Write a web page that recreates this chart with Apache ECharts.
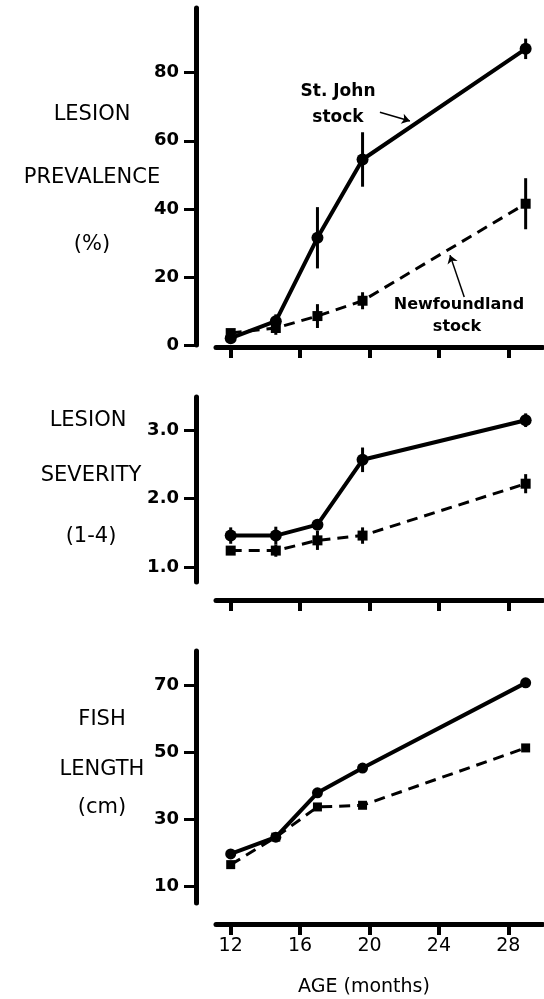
<!DOCTYPE html>
<html><head><meta charset="utf-8">
<script src="https://cdn.jsdelivr.net/npm/echarts@6/dist/echarts.min.js"></script>
<style>html,body{margin:0;padding:0;background:#fff}#c{width:544px;height:999px}</style>
</head><body><div id="c"></div>
<script>
// ---- data ----
const ages = [12, 14.6, 17, 19.6, 29];
const xTicks = [12, 16, 20, 24, 28];

const prevStJohn = [2, 7, 31.5, 54.5, 87];
const prevStJohnErr = [1, 2, 9, 8, 3];
const prevNewf = [3.5, 5, 8.5, 13, 41.5];
const prevNewfErr = [1, 2, 3.5, 2.5, 7.5];
const prevTicks = [0, 20, 40, 60, 80];

const sevStJohn = [1.46, 1.46, 1.62, 2.57, 3.15];
const sevStJohnErr = [0.12, 0.13, 0.07, 0.18, 0.1];
const sevNewf = [1.24, 1.24, 1.39, 1.46, 2.22];
const sevNewfErr = [0.05, 0.09, 0.14, 0.12, 0.14];
const sevTicks = [1, 2, 3];

const lenStJohn = [19.7, 24.7, 37.9, 45.3, 70.7];
const lenNewf = [16.5, 24.7, 33.7, 34.2, 51.3];
const lenTicks = [10, 30, 50, 70];

// ---- chart ----
const FONT = '"DejaVu Sans", "Liberation Sans", sans-serif';
const chart = echarts.init(document.getElementById('c'), null, {renderer: 'canvas'});

const pts = ys => ages.map((a, i) => [a, ys[i]]);
const errPts = (ys, es) => ages.map((a, i) => [a, ys[i] - es[i], ys[i] + es[i]]);

const panels = [
  {top: 8, height: 337, min: 0, max: 99, ticks: prevTicks, fmt: v => String(v), lineY: 347,
   sj: prevStJohn, nf: prevNewf, sjE: prevStJohnErr, nfE: prevNewfErr},
  {top: 397, height: 185, min: 0.78, max: 3.49, ticks: sevTicks, fmt: v => Number(v).toFixed(1), lineY: 600,
   sj: sevStJohn, nf: sevNewf, sjE: sevStJohnErr, nfE: sevNewfErr},
  {top: 651, height: 252, min: 5.06, max: 80.2, ticks: lenTicks, fmt: v => String(v), lineY: 924,
   sj: lenStJohn, nf: lenNewf, sjE: null, nfE: null}
];

const grid = [], xAxis = [], yAxis = [], series = [];
panels.forEach((p, i) => {
  grid.push({left: 196, right: 1, top: p.top, height: p.height});
  xAxis.push({gridIndex: i, type: 'value', min: 10, max: 30, show: false});
  yAxis.push({
    gridIndex: i, type: 'value', min: p.min, max: p.max, position: 'left',
    axisLine: {show: true, onZero: false, lineStyle: {color: '#000', width: 5}},
    axisTick: {show: true, customValues: p.ticks, length: 12, lineStyle: {color: '#000', width: 3}},
    axisLabel: {show: true, customValues: p.ticks, formatter: p.fmt, margin: 17, color: '#000',
                fontFamily: FONT, fontWeight: 'bold', fontSize: 18},
    splitLine: {show: false}
  });
});
panels.forEach((p, i) => {
  const gi = 3 + i;
  grid.push({left: 216, right: 1, top: p.lineY - 1, height: 1});
  xAxis.push({
    gridIndex: gi, type: 'value', min: 10 + 20 / 17.35, max: 30, position: 'bottom',
    axisLine: {show: true, onZero: false, lineStyle: {color: '#000', width: 5}},
    axisTick: {show: true, customValues: xTicks, length: 11, lineStyle: {color: '#000', width: 4}},
    axisLabel: {show: i === 2, customValues: xTicks, margin: 13, color: '#000',
                fontFamily: FONT, fontSize: 19},
    splitLine: {show: false}
  });
  yAxis.push({gridIndex: gi, type: 'value', min: 0, max: 1, show: false});
});

const errRender = (params, api) => {
  const x = api.value(0);
  const lo = api.coord([x, api.value(1)]);
  const hi = api.coord([x, api.value(2)]);
  return {type: 'line', shape: {x1: lo[0], y1: lo[1], x2: hi[0], y2: hi[1]},
          style: {stroke: '#000', lineWidth: 3}};
};

panels.forEach((p, i) => {
  const sj = {
    type: 'line', xAxisIndex: i, yAxisIndex: i, data: pts(p.sj),
    symbol: 'circle', symbolSize: i === 2 ? 11 : 12, showSymbol: true,
    lineStyle: {color: '#000', width: 4}, itemStyle: {color: '#000'}, z: 3
  };
  const nf = {
    type: 'line', xAxisIndex: i, yAxisIndex: i, data: pts(p.nf),
    symbol: 'rect', symbolSize: i === 2 ? 9 : 10, showSymbol: true,
    lineStyle: {color: '#000', width: 3, type: [11, 7]}, itemStyle: {color: '#000'}, z: 3
  };
  if (i === 0) {
    sj.markLine = {silent: true, symbol: ['none', 'arrow'], symbolSize: 8, animation: false,
      lineStyle: {color: '#000', width: 1.5, type: 'solid'}, label: {show: false},
      data: [[{coord: [20.6, 68.4]}, {coord: [22.33, 65.8]}]]};
    nf.markLine = {silent: true, symbol: ['none', 'arrow'], symbolSize: 8, animation: false,
      lineStyle: {color: '#000', width: 1.5, type: 'solid'}, label: {show: false},
      data: [[{coord: [25.46, 14.1]}, {coord: [24.64, 26.4]}]]};
  }
  series.push(sj, nf);
  if (p.sjE) {
    series.push({type: 'custom', xAxisIndex: i, yAxisIndex: i, data: errPts(p.sj, p.sjE),
      encode: {x: 0, y: [1, 2]}, renderItem: errRender, z: 2});
    series.push({type: 'custom', xAxisIndex: i, yAxisIndex: i, data: errPts(p.nf, p.nfE),
      encode: {x: 0, y: [1, 2]}, renderItem: errRender, z: 2});
  }
});

const txt = (t, x, y, font) => ({type: 'text', x: x, y: y, silent: true,
  style: {text: t, textAlign: 'center', textVerticalAlign: 'middle', font: font, fill: '#000'}});
const LBL = '21px ' + FONT;
const ANN = 'bold 17px ' + FONT;

chart.setOption({
  animation: false,
  backgroundColor: '#fff',
  grid, xAxis, yAxis, series,
  graphic: [
    txt('LESION', 92, 115, LBL),
    txt('PREVALENCE', 92, 178, LBL),
    txt('(%)', 92, 245, LBL),
    txt('LESION', 88, 421, LBL),
    txt('SEVERITY', 91, 476, LBL),
    txt('(1-4)', 91, 537, LBL),
    txt('FISH', 102, 720, LBL),
    txt('LENGTH', 102, 770, LBL),
    txt('(cm)', 102, 808, LBL),
    txt('St. John', 338, 92, ANN),
    txt('stock', 338, 118, ANN),
    txt('Newfoundland', 459, 305, 'bold 16px ' + FONT),
    txt('stock', 457, 327, 'bold 16px ' + FONT),
    txt('AGE (months)', 364, 987, '19px ' + FONT)
  ]
});
</script>
</body></html>
